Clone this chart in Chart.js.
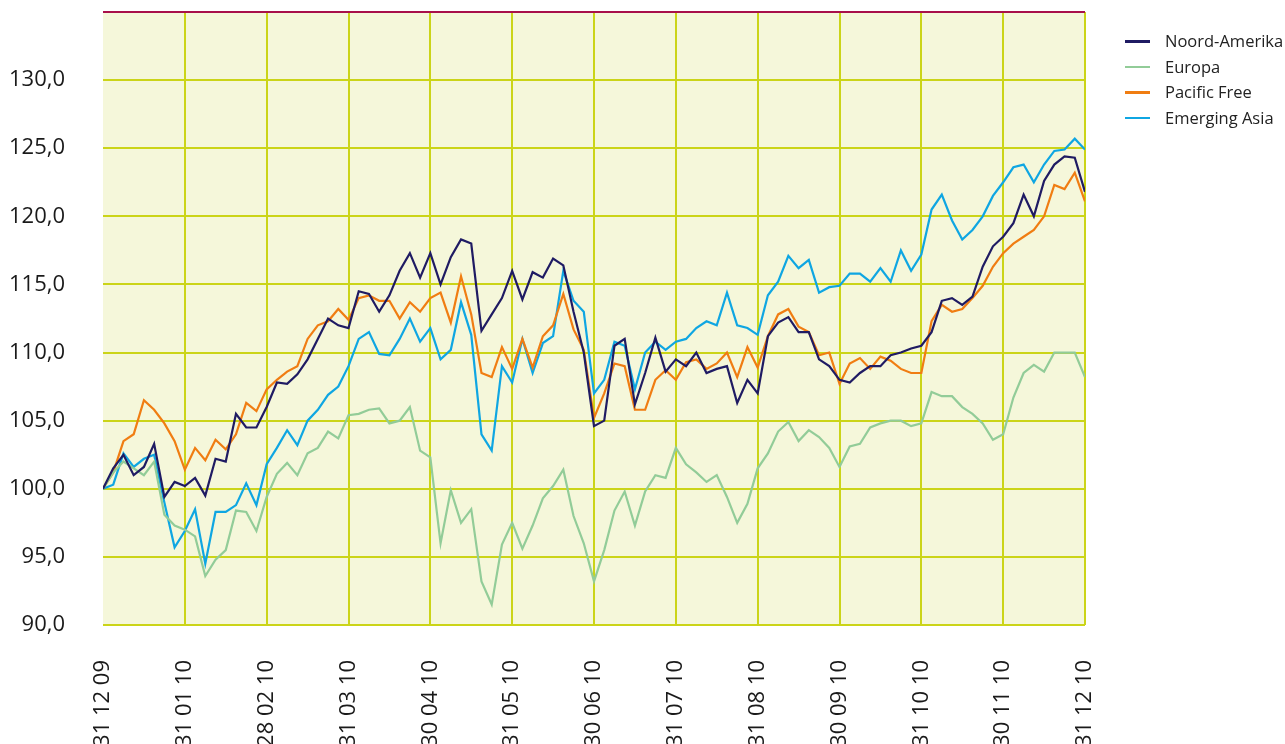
<!DOCTYPE html>
<html>
<head>
<meta charset="UTF-8">
<script src="https://cdn.jsdelivr.net/npm/chart.js@4"></script>
<style>
  html, body { margin: 0; padding: 0; background: #fff; overflow: hidden; }
  #wrap { position: relative; width: 1285px; height: 744px; overflow: hidden; }
  #legend { position: absolute; left: 1125px; top: 29px; font-family: "Open Sans", sans-serif; font-size: 16.5px; color: #222; }
  .item { position: relative; height: 25.5px; line-height: 24px; padding-left: 40px; white-space: nowrap; }
  .item span { position: absolute; left: 0; top: 11px; width: 25px; height: 2.5px; }
</style>
</head>
<body>
<div id="wrap">
  <canvas id="chart" width="1285" height="770"></canvas>
  <div id="legend"></div>
</div>
<script>
// month-end tick labels (x in months since 31 12 09)
var monthLabels = ["31 12 09", "31 01 10", "28 02 10", "31 03 10", "30 04 10", "31 05 10", "30 06 10",
                   "31 07 10", "31 08 10", "30 09 10", "31 10 10", "30 11 10", "31 12 10"];
var seriesNames = ["Noord-Amerika", "Europa", "Pacific Free", "Emerging Asia"];
var seriesColors = ["#1f1b63", "#92cc98", "#f07d12", "#0fa6e2"];

// index values, one reading every 1/8 month
var noordAmerika = [100.0, 101.5, 102.5, 101.0, 101.6, 103.3, 99.4, 100.5, 100.2, 100.8, 99.5, 102.2, 102.0, 105.5, 104.5, 104.5,
  106.0, 107.8, 107.7, 108.4, 109.5, 111.0, 112.5, 112.0, 111.8, 114.5, 114.3, 113.0, 114.2, 116.0, 117.3, 115.5,
  117.3, 115.0, 117.0, 118.3, 118.0, 111.6, 112.8, 114.0, 116.0, 113.9, 115.9, 115.5, 116.9, 116.4, 113.0, 110.0,
  104.6, 105.0, 110.5, 111.0, 106.2, 108.5, 111.1, 108.6, 109.5, 109.0, 110.0, 108.5, 108.8, 109.0, 106.3, 108.0,
  107.0, 111.2, 112.2, 112.6, 111.5, 111.5, 109.5, 109.0, 108.0, 107.8, 108.5, 109.0, 109.0, 109.8, 110.0, 110.3,
  110.5, 111.5, 113.8, 114.0, 113.5, 114.1, 116.3, 117.8, 118.5, 119.5, 121.6, 120.0, 122.6, 123.8, 124.4, 124.3, 121.8];
var europa = [100.0, 101.2, 102.0, 101.5, 101.0, 102.0, 98.1, 97.3, 97.0, 96.5, 93.6, 94.8, 95.5, 98.4, 98.3, 96.9,
  99.4, 101.1, 101.9, 101.0, 102.6, 103.0, 104.2, 103.7, 105.4, 105.5, 105.8, 105.9, 104.8, 105.0, 106.0, 102.8,
  102.3, 96.0, 99.9, 97.5, 98.5, 93.2, 91.5, 95.9, 97.5, 95.6, 97.3, 99.3, 100.2, 101.4, 98.0, 96.0,
  93.2, 95.5, 98.4, 99.8, 97.3, 99.8, 101.0, 100.8, 103.0, 101.8, 101.2, 100.5, 101.0, 99.4, 97.5, 98.9,
  101.5, 102.6, 104.2, 104.9, 103.5, 104.3, 103.8, 103.0, 101.6, 103.1, 103.3, 104.5, 104.8, 105.0, 105.0, 104.6,
  104.8, 107.1, 106.8, 106.8, 106.0, 105.5, 104.8, 103.6, 104.0, 106.7, 108.5, 109.1, 108.6, 110.0, 110.0, 110.0, 108.2];
var pacificFree = [100.0, 101.2, 103.5, 104.0, 106.5, 105.8, 104.8, 103.5, 101.4, 103.0, 102.1, 103.6, 102.9, 104.0, 106.3, 105.7,
  107.3, 108.0, 108.6, 109.0, 111.0, 112.0, 112.3, 113.2, 112.4, 114.0, 114.2, 113.8, 113.8, 112.5, 113.7, 113.0,
  114.0, 114.4, 112.2, 115.6, 112.8, 108.5, 108.2, 110.4, 108.8, 111.0, 108.9, 111.2, 112.0, 114.3, 111.7, 110.2,
  105.2, 107.0, 109.2, 109.0, 105.8, 105.8, 108.0, 108.7, 108.0, 109.3, 109.5, 108.8, 109.2, 110.0, 108.2, 110.4,
  108.9, 111.2, 112.8, 113.2, 111.9, 111.5, 109.8, 110.0, 107.7, 109.2, 109.6, 108.8, 109.7, 109.4, 108.8, 108.5,
  108.5, 112.3, 113.5, 113.0, 113.2, 114.0, 114.9, 116.3, 117.3, 118.0, 118.5, 119.0, 120.0, 122.3, 122.0, 123.2, 121.1];
var emergingAsia = [100.0, 100.3, 102.6, 101.6, 102.2, 102.5, 99.0, 95.7, 96.9, 98.5, 94.5, 98.3, 98.3, 98.8, 100.4, 98.8,
  101.8, 103.0, 104.3, 103.2, 105.0, 105.8, 106.9, 107.5, 109.0, 111.0, 111.5, 109.9, 109.8, 111.0, 112.5, 110.8,
  111.8, 109.5, 110.2, 113.7, 111.3, 104.0, 102.8, 109.0, 107.8, 111.0, 108.5, 110.7, 111.2, 116.0, 113.8, 113.0,
  107.0, 108.0, 110.8, 110.5, 107.3, 110.0, 110.8, 110.2, 110.8, 111.0, 111.8, 112.3, 112.0, 114.4, 112.0, 111.8,
  111.3, 114.2, 115.2, 117.1, 116.2, 116.8, 114.4, 114.8, 114.9, 115.8, 115.8, 115.2, 116.2, 115.2, 117.5, 116.0,
  117.2, 120.5, 121.6, 119.7, 118.3, 119.0, 120.0, 121.5, 122.5, 123.6, 123.8, 122.5, 123.8, 124.8, 124.9, 125.7, 124.9];

var stepMonths = 1 / 8;
function toPoints(vals) {
  return vals.map(function (v, i) { return { x: i * stepMonths, y: v }; });
}

var allSeries = [noordAmerika, europa, pacificFree, emergingAsia];
var datasets = allSeries.map(function (vals, k) {
  return {
    label: seriesNames[k],
    data: toPoints(vals),
    borderColor: seriesColors[k],
    backgroundColor: seriesColors[k],
    borderWidth: 2.2,
    pointRadius: 0,
    tension: 0
  };
});

// legend
var lg = document.getElementById('legend');
seriesNames.forEach(function (n, k) {
  var d = document.createElement('div');
  d.className = 'item';
  d.innerHTML = '<span style="background:' + seriesColors[k] + '"></span>' + n;
  lg.appendChild(d);
});

var areaBg = {
  id: 'areaBg',
  beforeDraw: function (chart) {
    var a = chart.chartArea, c = chart.ctx;
    c.save();
    c.fillStyle = '#f5f7da';
    c.fillRect(a.left, a.top, a.right - a.left, a.bottom - a.top);
    c.restore();
  }
};

var gridCol = '#cbd418';
var font = { family: "'Open Sans', sans-serif", size: 22 };

new Chart(document.getElementById('chart'), {
  type: 'line',
  data: { datasets: datasets },
  plugins: [areaBg],
  options: {
    responsive: false,
    animation: false,
    devicePixelRatio: 1,
    layout: { padding: { top: 12, right: 200, left: 0, bottom: 0 } },
    plugins: { legend: { display: false }, tooltip: { enabled: false } },
    scales: {
      x: {
        type: 'linear',
        min: 0,
        max: 12,
        afterFit: function (s) { s.height = 145; s.paddingLeft = 0; s.paddingRight = 0; },
        border: { display: false },
        grid: {
          drawTicks: false,
          lineWidth: 2,
          color: function (ctx) { return ctx.index === 0 ? 'rgba(0,0,0,0)' : gridCol; }
        },
        ticks: {
          stepSize: 1,
          autoSkip: false,
          minRotation: 90,
          maxRotation: 90,
          padding: 35,
          color: '#1a1a1a',
          font: font,
          callback: function (v) { return monthLabels[v]; }
        }
      },
      y: {
        min: 90,
        max: 135,
        afterFit: function (s) { s.width = 103; s.paddingTop = 0; s.paddingBottom = 0; },
        border: { display: false },
        grid: {
          drawTicks: false,
          lineWidth: 2,
          color: function (ctx) { return ctx.tick && ctx.tick.value === 135 ? '#a8104a' : gridCol; }
        },
        ticks: {
          stepSize: 5,
          padding: 38,
          color: '#1a1a1a',
          font: font,
          callback: function (v) { return v === 135 ? '' : v.toFixed(1).replace('.', ','); }
        }
      }
    }
  }
});
</script>
</body>
</html>
